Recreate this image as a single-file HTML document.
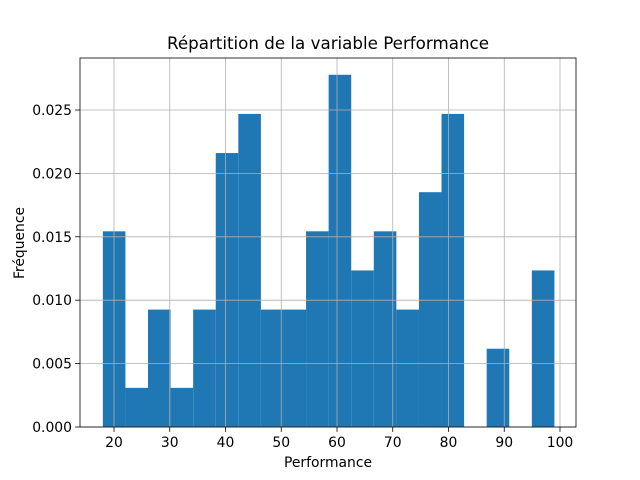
<!DOCTYPE html>
<html><head><meta charset="utf-8"><style>body{margin:0;background:#fff}svg{display:block;font-family:"DejaVu Sans","Liberation Sans",sans-serif}</style></head>
<body>
<svg id="chart" width="640" height="480"></svg>
<script>
const binStart = 18;
const binWidth = 4.05;
const counts = [5,1,3,1,3,7,8,3,3,5,9,4,5,3,6,8,0,2,0,4];
const xTicks = [20,30,40,50,60,70,80,90,100];
const yTicks = [0,0.005,0.010,0.015,0.020,0.025];
const yTickLabels = ["0.000","0.005","0.010","0.015","0.020","0.025"];
const total = counts.reduce((a,b)=>a+b,0);
const NS="http://www.w3.org/2000/svg";
const svg=document.getElementById('chart');
const L=80,R=576,T=58,B=427;
const xs=v=>2.5+v*5.575;
const ys=v=>B-v*12680;
function mk(t,a,p){const e=document.createElementNS(NS,t);for(const k in a)e.setAttribute(k,a[k]);(p||svg).appendChild(e);return e;}
const bars=mk('g',{});


counts.forEach((c,i)=>{
  const d=c/(total*binWidth);
  const x0=xs(binStart+i*binWidth),x1=xs(binStart+(i+1)*binWidth);
  const r=mk('rect',{x:x0,y:ys(d),width:x1-x0,height:B-ys(d),fill:'#1f77b4'},bars);
  
  
});
const grid=mk('g',{stroke:'#b0b0b0','stroke-width':0.8});


xTicks.forEach(t=>{const x=xs(t);mk('line',{x1:x,x2:x,y1:T,y2:B},grid);
  mk('line',{x1:x,x2:x,y1:B,y2:B+4.9,stroke:'#000','stroke-width':0.8});
  const tx=mk('text',{x:x,y:B+20,'text-anchor':'middle','font-size':13.9,fill:'#000'});tx.textContent=t;
  
  });
yTicks.forEach((t,i)=>{const y=ys(t);mk('line',{x1:L,x2:R,y1:y,y2:y},grid);
  mk('line',{x1:L-4.9,x2:L,y1:y,y2:y,stroke:'#000','stroke-width':0.8});
  const tx=mk('text',{x:L-8,y:y+5,'text-anchor':'end','font-size':13.9,fill:'#000'});tx.textContent=yTickLabels[i];
  
  });
const fr=mk('rect',{x:L,y:T,width:R-L,height:B-T,fill:'none',stroke:'#000','stroke-width':0.8});


let t=mk('text',{x:328,y:49,'text-anchor':'middle','font-size':16.7});t.textContent='Répartition de la variable Performance';


t=mk('text',{x:328,y:467,'text-anchor':'middle','font-size':13.9});t.textContent='Performance';


t=mk('text',{x:24,y:243,'text-anchor':'middle','font-size':13.9,transform:'rotate(-90 24 243)'});t.textContent='Fréquence';


</script>
</body></html>
